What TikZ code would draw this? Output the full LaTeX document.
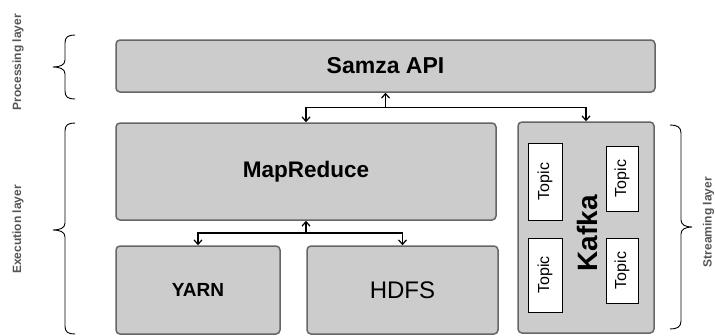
\documentclass[tikz,border=0pt]{standalone}
\usepackage{fontspec}
\setmainfont{Liberation Sans}
\usetikzlibrary{arrows.meta,calc}
\definecolor{boxfill}{HTML}{CCCCCC}
\definecolor{boxline}{HTML}{666666}
\definecolor{labelgray}{HTML}{555555}
\tikzset{
  layerbox/.style={draw=boxline, fill=boxfill, line width=1.5pt, rounded corners=4pt, inner sep=0pt},
  topicbox/.style={draw=black, fill=white, line width=0.9pt, inner sep=0pt, rotate=90,
                   font=\fontsize{16}{18}\selectfont},
  arr/.style={draw=black, line width=1.4pt, -{Straight Barb[length=4.5pt,width=8pt,line width=1.2pt]}},
  bracestyle/.style={draw=black, line width=0.9pt},
  layerlabel/.style={text=labelgray, font=\bfseries\fontsize{12}{14}\selectfont, rotate=90, anchor=base, inner sep=0pt},
}
\begin{document}
\begin{tikzpicture}[x=1pt,y=-1pt]
\useasboundingbox (0,0) rectangle (715,335);
% boxes
\node[layerbox, minimum width=539pt, minimum height=52pt, font=\bfseries\fontsize{23}{27}\selectfont] (samza) at (385.5,66) {Samza API};
\node[layerbox, minimum width=380pt, minimum height=97pt, font=\bfseries\fontsize{22.5}{26}\selectfont] (mapreduce) at (306,171.5) {MapReduce};
\node[layerbox, minimum width=164pt, minimum height=88pt, font=\bfseries\fontsize{19}{22}\selectfont] (yarn) at (198,290) {YARN};
\node[layerbox, minimum width=191pt, minimum height=88pt, font=\fontsize{24}{28}\selectfont] (hdfs) at (402.5,290) {HDFS};
\node[layerbox, minimum width=136pt, minimum height=211pt] (kafka) at (586,227.5) {};
\node[rotate=90, inner sep=0pt, font=\bfseries\fontsize{28}{32}\selectfont] (kafkalabel) at (587,233.5) {Kafka};
% topics
\node[topicbox, minimum width=77pt, minimum height=34pt] (t1) at (545,181.5) {Topic};
\node[topicbox, minimum width=65pt, minimum height=32pt] (t2) at (622,178.5) {Topic};
\node[topicbox, minimum width=74pt, minimum height=34pt] (t3) at (545,275) {Topic};
\node[topicbox, minimum width=65pt, minimum height=32pt] (t4) at (622,270.5) {Topic};
% connectors
\coordinate (j1) at (samza.south |- 0,107.5);
\coordinate (j2) at (mapreduce.south |- 0,233);
\draw[arr] (j1) -- (samza.south);
\draw[arr] (j1) -| (mapreduce.north);
\draw[arr] (j1) -| (kafka.north);
\draw[arr] (j2) -- (mapreduce.south);
\draw[arr] (j2) -| (yarn.north);
\draw[arr] (j2) -| (hdfs.north);
% braces
\draw[bracestyle] (75,35) .. controls (68,35) and (65,37) .. (65,43) -- (65,60)
  .. controls (65,65) and (60,67) .. (53,67) .. controls (60,67) and (65,69) .. (65,74)
  -- (65,91) .. controls (65,97) and (68,99) .. (75,99);
\draw[bracestyle] (75,123) .. controls (68,123) and (65,125) .. (65,131) -- (65,223)
  .. controls (65,228) and (60,230) .. (53,230) .. controls (60,230) and (65,232) .. (65,237)
  -- (65,326) .. controls (65,332) and (68,334) .. (75,334);
\draw[bracestyle] (670,125) .. controls (677,125) and (681,127) .. (681,133) -- (681,220)
  .. controls (681,225) and (686,227) .. (692,227) .. controls (686,227) and (681,229) .. (681,234)
  -- (681,321) .. controls (681,327) and (677,329) .. (670,329);
% layer labels
\node[layerlabel] (proclabel) at (21,62) {Processing layer};
\node[layerlabel] (execlabel) at (21,229.5) {Execution layer};
\node[layerlabel] (streamlabel) at (711.5,222) {Streaming layer};
\end{tikzpicture}
\end{document}
